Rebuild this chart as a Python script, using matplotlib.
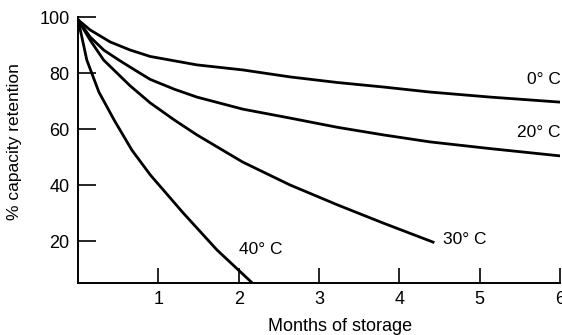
import matplotlib.pyplot as plt

plt.rcParams["font.family"] = ["Liberation Sans", "DejaVu Sans"]

# months of storage vs % capacity retention
m_0c = [0, 0.15, 0.4, 0.65, 0.9, 1.48, 2.05, 2.64, 3.23, 3.8, 4.38, 5.13, 6.0]
r_0c = [99, 95.4, 91.1, 88.2, 85.9, 82.9, 81.1, 78.6, 76.6, 75.0, 73.2, 71.4, 69.6]

m_20c = [0, 0.15, 0.32, 0.51, 0.7, 0.9, 1.2, 1.48, 2.05, 2.64, 3.23, 3.8, 4.38, 5.13, 6.0]
r_20c = [99, 92.9, 88.2, 84.6, 81.2, 77.7, 74.2, 71.4, 67.1, 63.9, 60.6, 57.9, 55.4, 53.0, 50.4]

m_30c = [0, 0.15, 0.32, 0.65, 0.9, 1.2, 1.48, 2.05, 2.64, 3.23, 3.8, 4.42]
r_30c = [99, 91.8, 84.6, 75.4, 69.3, 63.2, 57.9, 48.2, 40.0, 32.9, 26.4, 19.6]

m_40c = [0, 0.04, 0.11, 0.26, 0.45, 0.67, 0.9, 1.31, 1.73, 2.17]
r_40c = [99, 93.9, 84.6, 73.2, 63.2, 52.5, 43.6, 30.0, 16.8, 5.0]

labels = ["0° C", "20° C", "30° C", "40° C"]
label_pos = [(5.8, 77.5), (5.74, 58.6), (4.82, 20.4), (2.28, 17.1)]

fig = plt.figure(figsize=(5.62, 3.35), dpi=100)
ax = fig.add_axes([78 / 562, 52 / 335, 482 / 562, 266 / 335])

for m, r in [(m_0c, r_0c), (m_20c, r_20c), (m_30c, r_30c), (m_40c, r_40c)]:
    ax.plot(m, r, color="black", lw=2.0, solid_joinstyle="round")

for lab, (x, y) in zip(labels, label_pos):
    ax.text(x, y, lab, fontsize=12.5, ha="center", va="center")

ax.set_xlim(0, 6)
ax.set_ylim(5, 100)
ax.set_xticks([1, 2, 3, 4, 5, 6])
ax.set_yticks([20, 40, 60, 80, 100])
ax.tick_params(axis="x", direction="in", length=11, width=1.2, pad=6, labelsize=13)
ax.tick_params(axis="y", direction="in", length=13, width=1.2, pad=6, labelsize=13)

for side in ["top", "right"]:
    ax.spines[side].set_visible(False)
for side in ["left", "bottom"]:
    ax.spines[side].set_linewidth(1.4)

ax.set_xlabel("Months of storage", fontsize=13)
ax.xaxis.set_label_coords(262 / 482, -0.13)
ax.set_ylabel("% capacity retention", fontsize=12.5)
ax.yaxis.set_label_coords(-0.117, 0.53)

fig.savefig("out.png", dpi=100)
